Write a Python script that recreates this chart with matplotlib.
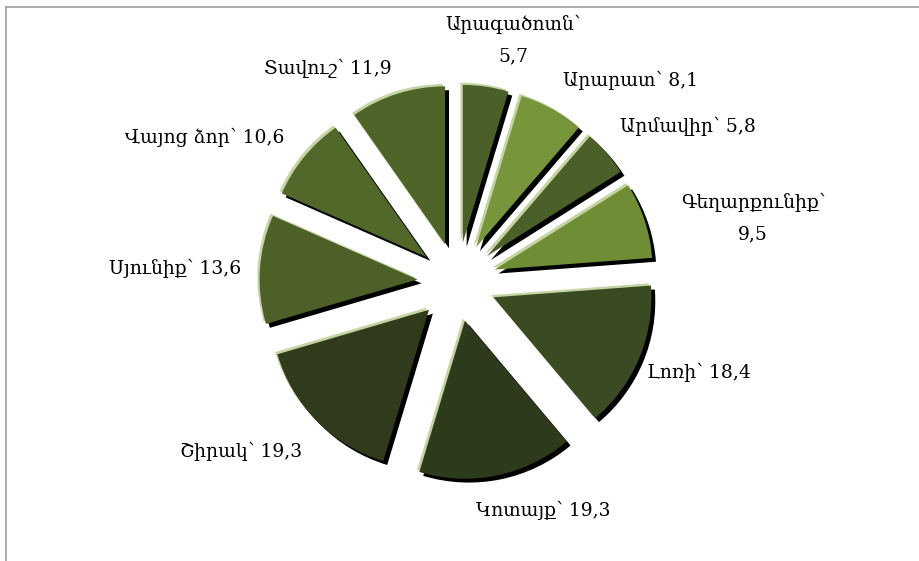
import matplotlib
matplotlib.use('Agg')
import matplotlib.pyplot as plt
import matplotlib.patheffects as pe
from matplotlib.lines import Line2D

plt.rcParams['font.family'] = ['DejaVu Serif', 'DejaVu Sans']

#
# data
#
regions = ['Արագածոտն', 'Արարատ', 'Արմավիր', 'Գեղարքունիք', 'Լոռի',
           'Կոտայք', 'Շիրակ', 'Սյունիք', 'Վայոց ձոր', 'Տավուշ']
values = [5.7, 8.1, 5.8, 9.5, 18.4, 19.3, 19.3, 13.6, 10.6, 11.9]
value_labels = ['5,7', '8,1', '5,8', '9,5', '18,4', '19,3', '19,3', '13,6', '10,6', '11,9']

#
# style / layout
#
colors = ['#4b6029', '#77953b', '#4b6029', '#6f8d35', '#3a4a22',
          '#2e3a1c', '#2f3b1c', '#4c6027', '#52682b', '#4f6428']
# two-line labels get a line break (as in the original)
two_line = [True, False, False, True, False, False, False, False, False, False]
# label centres, in pie radius units relative to the pie centre
label_pos = [(0.354, 1.532), (1.101, 1.278), (1.462, 0.987), (1.873, 0.405),
             (1.532, -0.570), (0.544, -1.443), (-1.367, -1.070), (-1.785, 0.089),
             (-1.595, 0.918), (-0.816, 1.354)]

W, H = 920, 561
cx, cy, r = 457, 282, 158   # pixel centre and radius of the pie

fig = plt.figure(figsize=(W / 100, H / 100), dpi=100)
ax = fig.add_axes([0, 0, 1, 1])

wedges, _ = ax.pie(values, startangle=90, counterclock=False,
                   explode=[0.25] * len(values), colors=colors,
                   wedgeprops=dict(linewidth=0))

for w in wedges:
    w.set_path_effects([
        pe.SimplePatchShadow(offset=(-1.6, 1.6), shadow_rgbFace='#c4d4a2', alpha=1.0),
        pe.SimplePatchShadow(offset=(2.8, -2.8), shadow_rgbFace='black', alpha=1.0),
        pe.Normal(),
    ])

ax.set_xlim(-cx / r, (W - cx) / r)
ax.set_ylim(-(H - cy) / r, cy / r)

for name, val, tl, (x, y) in zip(regions, value_labels, two_line, label_pos):
    sep = '\n' if tl else ' '
    ax.text(x, y, name + '՝' + sep + val, ha='center', va='center',
            multialignment='center', fontsize=13.5, linespacing=2.0, color='black')

# partial frame (top and left edges only)
fig.add_artist(Line2D([6 / W, 1], [1 - 7 / H, 1 - 7 / H], color='#a0a0a0', lw=1.2,
                      transform=fig.transFigure))
fig.add_artist(Line2D([6 / W, 6 / W], [0, 1 - 7 / H], color='#a0a0a0', lw=1.2,
                      transform=fig.transFigure))

plt.savefig('out.png', dpi=100)
plt.close()
